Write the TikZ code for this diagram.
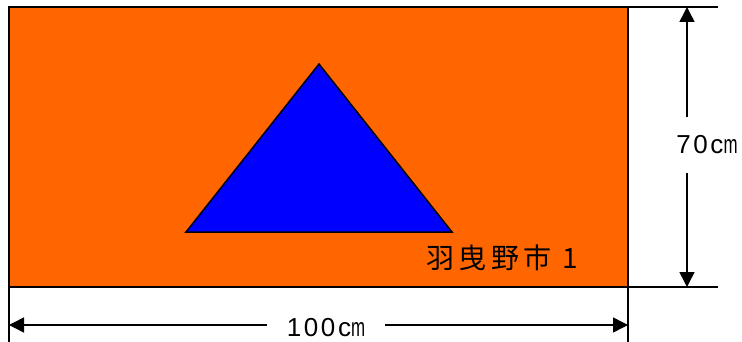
\documentclass[tikz,border=0pt]{standalone}
\usepackage{fontspec}
\setmainfont{Liberation Sans}[LetterSpace=10]
\newfontfamily\cjk{Noto Sans CJK JP}[LetterSpace=16]
\usetikzlibrary{arrows.meta}
\definecolor{flagorange}{HTML}{FF6600}
\definecolor{flagblue}{HTML}{0000FF}
\newcommand{\narrowm}{\scalebox{0.65}[1]{m}}

\begin{document}
\begin{tikzpicture}[x=1pt, y=-1pt, line width=1.5pt,
		dimline/.style={{Triangle[length=15pt,width=15pt]}-{Triangle[length=15pt,width=15pt]}},
		dimlabel/.style={fill=white, inner xsep=20pt, inner ysep=19pt, font=\fontsize{26}{28}\selectfont}
		]
	\useasboundingbox (0,0) rectangle (742,342);
	% flag
	\node [draw, line width=2pt, fill=flagorange, inner sep=0pt, outer sep=0pt, anchor=north west,
		minimum width=619pt, minimum height=280pt] (flag) at (9,7) {};
	\draw [line width=1.5pt, fill=flagblue] (319,64) -- (186,232) -- (452,232) -- cycle;
	\node [font=\cjk\fontsize{28}{30}\selectfont] (name) at (502,258) {羽曳野市 1};
	% extension lines
	\coordinate (hi) at (718,7);
	\coordinate (lo) at (718,287);
	\coordinate (bl) at (9,342);
	\coordinate (br) at (628,342);
	\draw (flag.north east) -- (hi);
	\draw (flag.south east) -- (lo);
	\draw (flag.south west) -- (bl);
	\draw (flag.south east) -- (br);
	% dimensions
	\coordinate (htop) at (687,7);
	\coordinate (hbot) at (687,287);
	\coordinate (wl) at (9,325);
	\coordinate (wr) at (628,325);
	\draw [dimline] (htop) -- (hbot);
	\draw [dimline] (wl) -- (wr);
	\node [dimlabel] (height) at (707,145) {70c\narrowm};
	\node [dimlabel] (width) at (326,328) {100c\narrowm};
\end{tikzpicture}
\end{document}
